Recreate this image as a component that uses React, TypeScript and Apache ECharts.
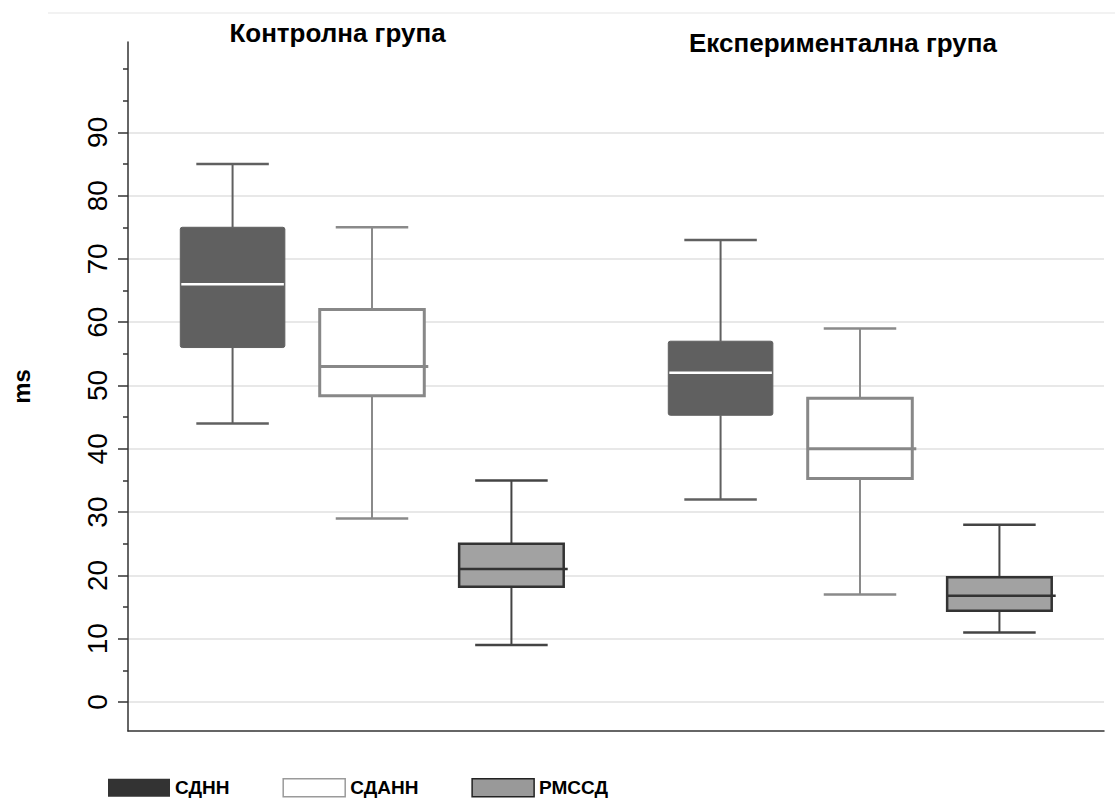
import React, { useEffect, useRef } from 'react';
import * as echarts from 'echarts';

// ---------- data ----------
const groupTitles = ['Контролна група', 'Експериментална група'];
const measureNames = ['СДНН', 'СДАНН', 'РМССД'];
// category slots along the x axis (underscored ones are empty spacers)
const slots = [
  '_a', 'К-СДНН', '_b', 'К-СДАНН', '_c', 'К-РМССД', '_d',
  '_e', 'Е-СДНН', '_f', 'Е-СДАНН', '_g', 'Е-РМССД', '_h',
];
const controlSlots = ['К-СДНН', 'К-СДАНН', 'К-РМССД'];
const experimentalSlots = ['Е-СДНН', 'Е-СДАНН', 'Е-РМССД'];

// [min, Q1, median, Q3, max] in ms
const sdnnControl = [44, 56, 66, 75, 85];
const sdnnExperimental = [32, 45.3, 52, 57, 73];
const sdannControl = [29, 48.4, 53, 62, 75];
const sdannExperimental = [17, 35.3, 40, 48, 59];
const rmssdControl = [9, 18.2, 21, 25, 35];
const rmssdExperimental = [11, 14.4, 16.8, 19.7, 28];

const yMajorTicks = [0, 10, 20, 30, 40, 50, 60, 70, 80, 90];
const yMinorTicks = [5, 15, 25, 35, 45, 55, 65, 75, 85, 95, 100];
const yName = 'ms';

// ---------- styles ----------
const FONT = "'Liberation Sans', Arial, Helvetica, sans-serif";
const boxStyles = [
  { fill: '#606060', stroke: '#606060', lw: 1, median: '#ffffff', mlw: 2.5, whisker: '#606060', wlw: 2, ext: 0, r: 2 },
  { fill: '#ffffff', stroke: '#888888', lw: 3, median: '#888888', mlw: 3, whisker: '#8a8a8a', wlw: 2, ext: 4, r: 0 },
  { fill: '#a2a2a2', stroke: '#333333', lw: 2.5, median: '#333333', mlw: 2.5, whisker: '#444444', wlw: 2, ext: 4, r: 0 },
];

const seriesValues = [
  [sdnnControl, sdnnExperimental],
  [sdannControl, sdannExperimental],
  [rmssdControl, rmssdExperimental],
];

function makeRenderItem(st: any) {
  return (params: any, api: any) => {
    const xi = api.value(0);
    const pt = (v: number) => api.coord([xi, v]);
    const [cx, yMin] = pt(api.value(1));
    const yQ1 = pt(api.value(2))[1];
    const yMed = pt(api.value(3))[1];
    const yQ3 = pt(api.value(4))[1];
    const yMax = pt(api.value(5))[1];
    const slot = api.size([1, 0])[0];
    const bw = slot * 1.5;
    const cw = slot * 1.04;
    const line = (x1: number, y1: number, x2: number, y2: number, stroke: string, lw: number) => ({
      type: 'line',
      shape: { x1, y1, x2, y2 },
      style: { stroke, lineWidth: lw },
    });
    return {
      type: 'group',
      children: [
        line(cx, yQ3, cx, yMax, st.whisker, st.wlw),
        line(cx, yQ1, cx, yMin, st.whisker, st.wlw),
        line(cx - cw / 2, yMax, cx + cw / 2, yMax, st.whisker, st.wlw + 0.5),
        line(cx - cw / 2, yMin, cx + cw / 2, yMin, st.whisker, st.wlw + 0.5),
        {
          type: 'rect',
          shape: { x: cx - bw / 2, y: yQ3, width: bw, height: yQ1 - yQ3, r: st.r },
          style: { fill: st.fill, stroke: st.stroke, lineWidth: st.lw },
        },
        line(cx - bw / 2 + (st.ext ? 0 : 1), yMed, cx + bw / 2 + st.ext - (st.ext ? 0 : 1), yMed, st.median, st.mlw),
      ],
    };
  };
}

export default function App() {
  const ref = useRef<HTMLDivElement>(null);
  useEffect(() => {
    document.body.style.margin = '0';
    const chart = echarts.init(ref.current!, null, { renderer: 'svg' });
    const series = measureNames.map((name, i) => ({
      name,
      type: 'custom',
      renderItem: makeRenderItem(boxStyles[i]),
      encode: { x: 0, y: [1, 2, 3, 4, 5] },
      itemStyle: { color: boxStyles[i].fill },
      data: [
        [controlSlots[i], ...seriesValues[i][0]],
        [experimentalSlots[i], ...seriesValues[i][1]],
      ],
      z: 3,
    }));
    chart.setOption({
      animation: false,
      backgroundColor: '#ffffff',
      grid: { left: 128, right: 11, top: 42, bottom: 67, containLabel: false, outerBoundsMode: 'none' },
      xAxis: {
        type: 'category',
        data: slots,
        boundaryGap: true,
        axisLine: { show: true, onZero: false, lineStyle: { color: '#333333', width: 1.5 } },
        axisTick: { show: false },
        axisLabel: { show: false },
        splitLine: { show: false },
      },
      yAxis: [
        {
          type: 'value',
          min: -4.58,
          max: 104.27,
          name: yName,
          nameLocation: 'middle',
          nameRotate: 90,
          nameGap: 95,
          nameTextStyle: { fontFamily: FONT, fontWeight: 'bold', fontSize: 24, color: '#000' },
          axisLine: { show: true, lineStyle: { color: '#333333', width: 1.5 } },
          axisTick: { show: true, length: 10, customValues: yMajorTicks, lineStyle: { color: '#333333', width: 1.5 } },
          axisLabel: {
            show: true,
            customValues: yMajorTicks,
            rotate: 90,
            margin: 17,
            fontFamily: FONT,
            fontSize: 28,
            color: '#000000',
          },
          splitLine: { show: true, lineStyle: { color: '#e8e8e8', width: 2 } },
        },
        {
          type: 'value',
          position: 'left',
          min: -4.58,
          max: 104.27,
          axisLine: { show: false },
          axisTick: { show: true, length: 5, customValues: yMinorTicks, lineStyle: { color: '#333333', width: 1.5 } },
          axisLabel: { show: false },
          splitLine: { show: false },
        },
      ],
      legend: {
        left: 108,
        top: 778,
        padding: 0,
        itemWidth: 62,
        itemHeight: 18,
        itemGap: 53,
        icon: 'rect',
        textStyle: { fontFamily: FONT, fontWeight: 'bold', fontSize: 19, lineHeight: 18, color: '#000' },
        data: [
          { name: measureNames[0], itemStyle: { color: '#333333', borderWidth: 0 } },
          { name: measureNames[1], itemStyle: { color: '#ffffff', borderColor: '#9a9a9a', borderWidth: 1.5 } },
          { name: measureNames[2], itemStyle: { color: '#999999', borderColor: '#222222', borderWidth: 1.5 } },
        ],
      },
      graphic: [
        {
          type: 'line',
          shape: { x1: 48, y1: 13, x2: 1115, y2: 13 },
          style: { stroke: '#eeeeee', lineWidth: 1.5 },
          silent: true,
        },
        {
          type: 'text',
          x: 337.5,
          y: 33,
          style: {
            text: groupTitles[0],
            fontFamily: FONT,
            fontWeight: 'bold',
            fontSize: 26,
            fill: '#000',
            align: 'center',
            verticalAlign: 'middle',
          },
        },
        {
          type: 'text',
          x: 843,
          y: 42.5,
          style: {
            text: groupTitles[1],
            fontFamily: FONT,
            fontWeight: 'bold',
            fontSize: 26,
            fill: '#000',
            align: 'center',
            verticalAlign: 'middle',
          },
        },
      ],
      series,
    });
    return () => chart.dispose();
  }, []);
  return <div ref={ref} style={{ width: 1115, height: 798 }} />;
}
